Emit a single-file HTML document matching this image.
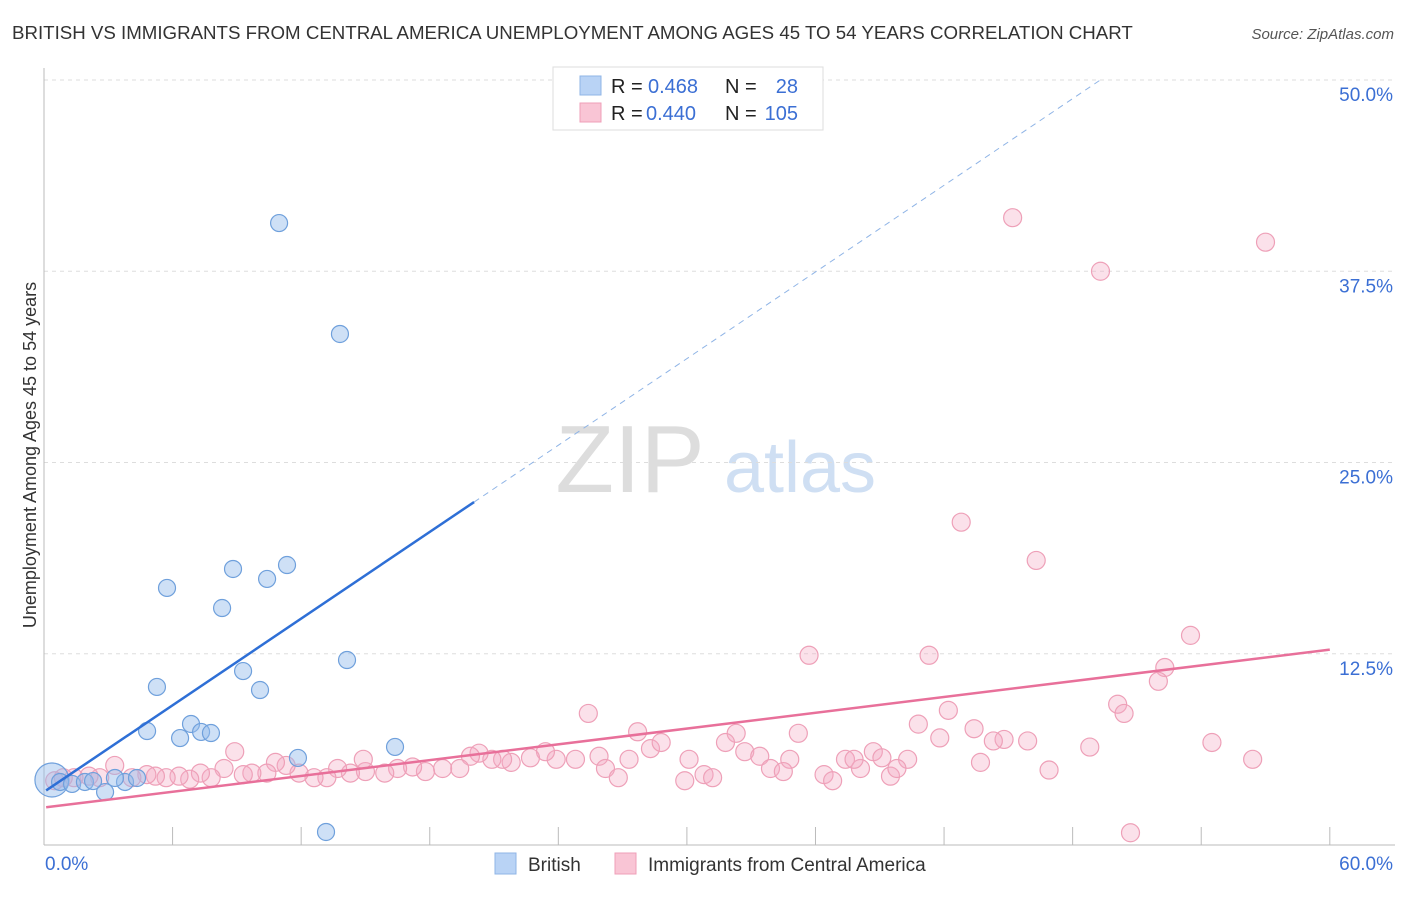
<!DOCTYPE html>
<html><head><meta charset="utf-8"><style>
body{margin:0;background:#fff;font-family:"Liberation Sans",sans-serif}
svg text{font-family:"Liberation Sans",sans-serif}
</style></head><body>
<svg id="c" width="1406" height="892">
<text x="12" y="39" font-size="18.7" fill="#333">BRITISH VS IMMIGRANTS FROM CENTRAL AMERICA UNEMPLOYMENT AMONG AGES 45 TO 54 YEARS CORRELATION CHART</text>
<text x="1394" y="39" font-size="15" fill="#555" text-anchor="end" font-style="italic">Source: ZipAtlas.com</text>
<text x="630" y="492" font-size="96" fill="#ddd" text-anchor="middle" font-family="Liberation Serif">ZIP</text>
<text x="800" y="492" font-size="72" fill="#cfdff3" text-anchor="middle">atlas</text>
<g id="grid"></g><g id="axes"></g><g id="pts"></g><g id="lines"></g>
<text x="36" y="455" font-size="18" fill="#333" text-anchor="middle" transform="rotate(-90 36 455)">Unemployment Among Ages 45 to 54 years</text>
<text x="45" y="870" font-size="19" fill="#3b6fd4">0.0%</text>
<text x="1393" y="870" font-size="19" fill="#3b6fd4" text-anchor="end">60.0%</text>
<g>
<rect x="553" y="67" width="270" height="63" fill="#fff" stroke="#ddd"/>
<rect x="580" y="76" width="21" height="19" fill="#b9d3f5" stroke="#8fb4e6"/>
<rect x="580" y="103" width="21" height="19" fill="#f9c5d5" stroke="#ef9fb8"/>
<text x="611" y="93" font-size="20" fill="#222">R =</text><text x="648" y="93" font-size="20" fill="#3b6fd4">0.468</text>
<text x="725" y="93" font-size="20" fill="#222">N =</text><text x="798" y="93" font-size="20" fill="#3b6fd4" text-anchor="end">28</text>
<text x="611" y="120" font-size="20" fill="#222">R =</text><text x="646" y="120" font-size="20" fill="#3b6fd4">0.440</text>
<text x="725" y="120" font-size="20" fill="#222">N =</text><text x="798" y="120" font-size="20" fill="#3b6fd4" text-anchor="end">105</text>
</g>
<g><rect x="495" y="853" width="21" height="21" fill="#b9d3f5" stroke="#8fb4e6"/><text x="528" y="871" font-size="19" fill="#333">British</text></g>
<g><rect x="615" y="853" width="21" height="21" fill="#f9c5d5" stroke="#ef9fb8"/><text x="648" y="871" font-size="19" fill="#333">Immigrants from Central America</text></g>
</svg>
<script>
const yTicks=[12.5,25,37.5,50];
const yTickLabels=["12.5%","25.0%","37.5%","50.0%"];
const xTicks=[0,6,12,18,24,30,36,42,48,54,60];
const britX=[10.97,13.81,5.74,8.82,10.41,11.34,8.31,5.27,9.29,10.08,14.14,4.81,6.35,6.86,7.33,7.79,11.85,16.38,13.16,0.75,1.31,1.91,2.85,3.78,4.34,3.31,2.29];
const britY=[40.65,33.4,16.8,18.04,17.39,18.3,15.49,10.33,11.37,10.13,12.09,7.45,6.99,7.91,7.39,7.32,5.69,6.41,0.85,4.12,3.99,4.12,3.46,4.12,4.38,4.38,4.18];
const britBigX=[0.37], britBigY=[4.25];
const pinkX=[45.2,57.0,49.3,42.8,46.3,53.5,35.7,41.3,52.3,52.0,25.4,50.1,50.4,40.8,42.2,27.7,32.3,35.2,43.4,44.8,44.3,45.9,41.8,48.8,54.5,28.3,28.8,31.8,32.7,33.4,34.8,37.4,38.7,40.3,56.4,43.7,46.9,25.9,24.8,23.9,23.4,22.7,21.8,21.4,20.9,20.3,19.9,19.4,18.6,17.8,17.2,16.5,15.9,15.0,14.3,13.7,13.2,12.6,11.9,11.3,10.8,10.4,9.7,9.3,8.9,8.4,7.8,7.3,6.8,6.3,5.7,5.2,4.8,4.1,3.3,2.6,2.1,1.4,0.9,0.5,26.2,26.8,29.9,30.8,31.2,33.9,34.5,36.4,36.8,38.1,39.5,39.8,50.7,14.9,27.3,30.1,37.8,39.1];
const pinkY=[41.0,39.4,37.5,21.1,18.6,13.7,12.4,12.4,11.6,10.7,8.6,9.2,8.6,7.9,8.8,7.4,7.3,7.3,7.6,6.9,6.8,6.8,7.0,6.4,6.7,6.3,6.7,6.7,6.1,5.8,5.6,5.6,6.1,5.6,5.6,5.4,4.9,5.8,5.6,5.6,6.1,5.7,5.4,5.6,5.6,6.0,5.8,5.0,5.0,4.8,5.1,5.0,4.7,4.8,4.7,5.0,4.4,4.4,4.7,5.2,5.4,4.7,4.7,4.6,6.1,5.0,4.4,4.7,4.3,4.5,4.4,4.5,4.6,4.4,5.2,4.4,4.5,4.4,4.4,4.2,5.0,4.4,4.2,4.6,4.4,5.0,4.8,4.6,4.2,5.0,4.5,5.0,0.8,5.6,5.6,5.6,5.6,5.7];
const britTrend=[3.47,0.944], pinkTrend=[2.45,0.172];
const X=v=>44+v*21.43, Y=v=>845-v*15.3;
const NS="http://www.w3.org/2000/svg";
function mk(t,a,p){const e=document.createElementNS(NS,t);for(const k in a)e.setAttribute(k,a[k]);document.getElementById(p).appendChild(e);return e;}
yTicks.forEach((t,i)=>{
 const l=mk('line',{x1:44,x2:1395,y1:Y(t),y2:Y(t),stroke:'#ddd','stroke-dasharray':'4 4'},'grid');
 
 
 const tx=mk('text',{x:1393,y:Y(t)+21,'font-size':19,fill:'#3b6fd4','text-anchor':'end'},'grid');tx.textContent=yTickLabels[i];
 
 
});
const ax=mk('line',{x1:44,x2:44,y1:68,y2:845,stroke:'#bbb'},'axes');


const bx=mk('line',{x1:44,x2:1395,y1:845,y2:845,stroke:'#bbb'},'axes');


xTicks.forEach(t=>{const l=mk('line',{x1:X(t),x2:X(t),y1:827,y2:845,stroke:'#bbb'},'axes');
 
 });
pinkX.forEach((x,i)=>{const c=mk('circle',{cx:X(x),cy:Y(pinkY[i]),r:9,fill:'rgba(244,170,195,0.35)',stroke:'#eea0b8','stroke-width':1.2},'pts');
 
 });
britBigX.forEach((x,i)=>{const c=mk('circle',{cx:X(x),cy:Y(britBigY[i]),r:17,fill:'rgba(147,187,235,0.45)',stroke:'#6fa0dc','stroke-width':1.2},'pts');
 
 });
britX.forEach((x,i)=>{const c=mk('circle',{cx:X(x),cy:Y(britY[i]),r:8.5,fill:'rgba(147,187,235,0.45)',stroke:'#6fa0dc','stroke-width':1.2},'pts');
 
 });
const b1=mk('line',{x1:X(0.1),y1:Y(britTrend[0]+britTrend[1]*0.1),x2:X(20.07),y2:Y(britTrend[0]+britTrend[1]*20.07),stroke:'#2e6fd6','stroke-width':2.5},'lines');


const xe=(50-britTrend[0])/britTrend[1];
const b2=mk('line',{x1:X(20.07),y1:Y(britTrend[0]+britTrend[1]*20.07),x2:X(xe),y2:Y(50),stroke:'#8fb4e6','stroke-width':1,'stroke-dasharray':'6 5'},'lines');


const p1=mk('line',{x1:X(0.1),y1:Y(pinkTrend[0]+pinkTrend[1]*0.1),x2:X(60),y2:Y(pinkTrend[0]+pinkTrend[1]*60),stroke:'#e8709a','stroke-width':2.5},'lines');


</script>
</body></html>
